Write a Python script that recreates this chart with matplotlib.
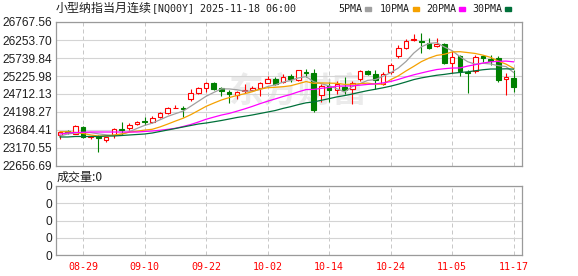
import matplotlib
matplotlib.use("Agg")
import matplotlib.pyplot as plt
from matplotlib.patches import Rectangle
import numpy as np
import pandas as pd

W, H = 578, 276

dates = [
    "08-26", "08-27", "08-28", "08-29",
    "09-01", "09-02", "09-03", "09-04", "09-05",
    "09-08", "09-09", "09-10", "09-11", "09-12",
    "09-15", "09-16", "09-17", "09-18", "09-19",
    "09-22", "09-23", "09-24", "09-25", "09-26",
    "09-29", "09-30", "10-01", "10-02", "10-03",
    "10-06", "10-07", "10-08", "10-09", "10-10",
    "10-13", "10-14", "10-15", "10-16", "10-17",
    "10-20", "10-21", "10-22", "10-23", "10-24",
    "10-27", "10-28", "10-29", "10-30", "10-31",
    "11-03", "11-04", "11-05", "11-06", "11-07",
    "11-10", "11-11", "11-12", "11-13", "11-14",
    "11-17",
]

opens = [
    23541, 23646, 23580, 23780, 23494, 23513, 23408, 23551, 23713, 23732,
    23865, 23941, 23903, 24056, 24160, 24300, 24303, 24560, 24731, 24893,
    25036, 24874, 24779, 24674, 24798, 24826, 24874, 25036, 25131, 25064,
    25226, 25102, 25340, 25312, 24674, 24940, 24817, 24912, 24864, 25131,
    25359, 25293, 25007, 25340, 25787, 26035, 26254, 26225, 26178, 26082,
    26130, 25606, 25787, 25340, 25359, 25787, 25702, 25740, 25150, 25169,
]
highs = [
    23646, 23694, 23837, 23789, 23523, 23532, 23494, 23732, 23922, 23875,
    23951, 24065, 24075, 24189, 24341, 24398, 24360, 24845, 24921, 25064,
    25055, 24921, 24826, 24807, 24998, 24940, 25055, 25226, 25188, 25274,
    25293, 25407, 25426, 25426, 25007, 25055, 25074, 25197, 25074, 25407,
    25388, 25388, 25340, 25607, 26101, 26273, 26434, 26453, 26311, 26311,
    26178, 25930, 25835, 25407, 25816, 25835, 25816, 25787, 25321, 25388,
]
lows = [
    23437, 23580, 23561, 23465, 23418, 23056, 23342, 23465, 23532, 23694,
    23827, 23837, 23884, 24027, 24141, 24300, 24046, 24522, 24702, 24779,
    24826, 24665, 24465, 24560, 24750, 24807, 24655, 25017, 24969, 25036,
    25055, 25074, 25197, 24184, 24484, 24484, 24722, 24722, 24436, 25074,
    25264, 24864, 24960, 25293, 25740, 25987, 26215, 25892, 26006, 26054,
    25559, 25312, 25226, 24750, 25321, 25625, 25530, 25055, 24674, 24769,
]
closes = [
    23627, 23618, 23799, 23494, 23513, 23446, 23484, 23713, 23684, 23837,
    23922, 23922, 24036, 24160, 24322, 24306, 24290, 24731, 24874, 25036,
    24855, 24807, 24712, 24760, 24826, 24874, 25036, 25131, 24998, 25207,
    25131, 25388, 25321, 24255, 24941, 24817, 24988, 24836, 25026, 25359,
    25293, 25102, 25293, 25549, 26035, 26225, 26292, 26197, 26035, 26130,
    25606, 25768, 25359, 25312, 25768, 25740, 25664, 25121, 25188, 24912,
]
volume = [0] * len(dates)

# moving-average values before each window is full
ma5_head = [23513, 23570, 23599, 23613]
ma10_head = [23636, 23636, 23613, 23585, 23542, 23513, 23513, 23542, 23570]
ma20_head = [23570, 23599, 23613, 23619, 23627, 23627, 23627, 23627, 23627, 23627,
             23627, 23642, 23656, 23676, 23704, 23733, 23784, 23841, 23913]
ma30_head = [23485, 23485, 23499, 23499, 23499, 23499, 23513, 23513, 23527, 23542,
             23556, 23570, 23599, 23642, 23684, 23727, 23770, 23813, 23856, 23884,
             23919, 23956, 23998, 24041, 24076, 24113, 24155, 24198, 24241]

y_ticks = [22656.69, 23170.55, 23684.41, 24198.27, 24712.13,
           25225.98, 25739.84, 26253.70, 26767.56]
tick_labels = ["08-29", "09-10", "09-22", "10-02", "10-14", "10-24", "11-05", "11-17"]
ma_names = ["5PMA", "10PMA", "20PMA", "30PMA"]

UP = "#FF0000"
DOWN = "#008000"
MA_COLORS = ["#A0A0A0", "#F5A100", "#FF00FF", "#00703A"]
GRID = "#D4D4D4"
SPINE = "#9A9A9A"
TXT = "#1E1E1E"

CJK = ["Noto Sans CJK SC", "DejaVu Sans"]
MONO = "DejaVu Sans Mono"


def moving_average(n, head):
    ma = pd.Series(closes, dtype=float).rolling(n).mean()
    ma.iloc[: n - 1] = head
    return ma.to_numpy()


def ftext(x, y, s, **kw):
    kw.setdefault("va", "center")
    kw.setdefault("ha", "left")
    kw.setdefault("color", TXT)
    fig.text(x / W, 1 - y / H, s, **kw)


fig = plt.figure(figsize=(W / 100, H / 100), dpi=100)
ax = fig.add_axes([56 / W, 1 - 166 / H, 466 / W, 144 / H])
axv = fig.add_axes([56 / W, 1 - 255 / H, 466 / W, 69 / H])

x = np.arange(len(dates))
o = np.array(opens, dtype=float)
hi = np.array(highs, dtype=float)
lo = np.array(lows, dtype=float)
c = np.array(closes, dtype=float)
up = c >= o
body_lo = np.minimum(o, c)
body_h = np.abs(c - o)
tick_pos = [dates.index(t) for t in tick_labels]

# watermark
ax.text(0.52, 0.52, "东方财富", transform=ax.transAxes, family=CJK, fontsize=25,
        fontweight="bold", color="#EBEBEB", ha="center", va="center", zorder=0.5)

# candles
ax.vlines(x[up], lo[up], hi[up], color=UP, lw=0.8, zorder=3)
ax.vlines(x[~up], lo[~up], hi[~up], color=DOWN, lw=0.8, zorder=3)
ax.bar(x[up], body_h[up], bottom=body_lo[up], width=0.6, facecolor="white",
       edgecolor=UP, linewidth=0.8, zorder=4)
ax.bar(x[~up], body_h[~up], bottom=body_lo[~up], width=0.6, facecolor=DOWN,
       edgecolor=DOWN, linewidth=0.8, zorder=4)

# moving averages
for n, head, col in zip([5, 10, 20, 30], [ma5_head, ma10_head, ma20_head, ma30_head], MA_COLORS):
    ax.plot(x, moving_average(n, head), color=col, lw=0.9, zorder=5)

for a in (ax, axv):
    a.set_xlim(-0.52, 60.08)
    a.set_xticks(tick_pos)
    a.xaxis.grid(True, linestyle=(0, (4, 3)), color="#C8C8C8", lw=0.72)
    a.yaxis.grid(True, color=GRID, lw=0.8)
    a.set_axisbelow(True)
    for sp in a.spines.values():
        sp.set_color(SPINE)
        sp.set_linewidth(0.9)
    a.tick_params(length=0, pad=2.5, labelsize=8.6, labelcolor=TXT)
    for lab in a.get_yticklabels():
        lab.set_family("Liberation Sans")

ax.set_ylim(y_ticks[0], y_ticks[-1])
ax.set_yticks(y_ticks)
ax.set_yticklabels([f"{v:.2f}" for v in y_ticks], family="Liberation Sans")
ax.tick_params(axis="x", labelbottom=False)

vmax = max(volume)
axv.set_ylim(0, 4)
axv.set_yticks([0, 1, 2, 3, 4])
axv.set_yticklabels([f"{vmax * k / 4:g}" for k in range(5)], family="Liberation Sans")
axv.set_xticklabels(tick_labels, family=MONO, fontsize=7.2, color=UP)
axv.tick_params(axis="x", pad=5, labelcolor=UP)

# title and legend
ftext(56, 8, "小型纳指当月连续", family=CJK, fontsize=8.64)
ftext(152, 8.5, "[NQ00Y] 2025-11-18 06:00", family=MONO, fontsize=7.2)
leg_x = [338, 380, 426, 472]
for lx, name, col in zip(leg_x, ma_names, MA_COLORS):
    ftext(lx, 8.5, name, family=MONO, fontsize=7.2)
    sx = lx + 6 * len(name) + 3
    fig.patches.append(Rectangle((sx / W, 1 - 11 / H), 6 / W, 4 / H,
                                 transform=fig.transFigure, color=col))

ftext(57, 177, "成交量:0", family=CJK, fontsize=8.64)

fig.savefig("out.png", dpi=100)
